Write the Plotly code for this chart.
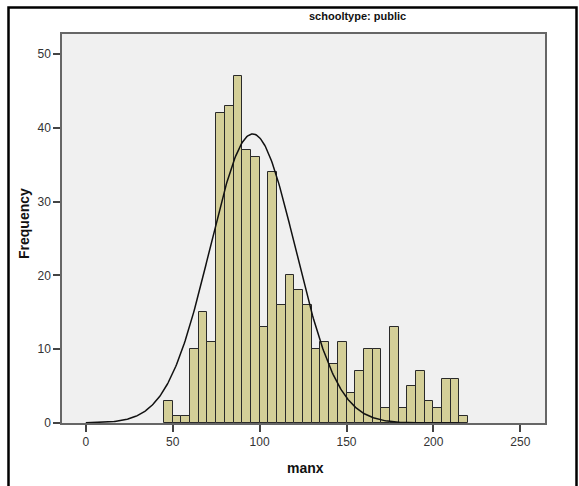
import plotly.graph_objects as go
import numpy as np

# Histogram data (bin left edges, width 5)
bin_left = [45, 50, 55, 60, 65, 70, 75, 80, 85, 90, 95, 100, 105, 110, 115, 120, 125,
            130, 135, 140, 145, 150, 155, 160, 165, 170, 175, 180, 185, 190, 195, 200,
            205, 210, 215]
counts = [3, 1, 1, 10, 15, 11, 42, 43, 47, 37, 36, 13, 34, 16, 20, 18, 16,
          10, 11, 8, 11, 4, 7, 10, 10, 2, 13, 2, 5, 7, 3, 2,
          6, 6, 1]
bin_width = 5

# Normal curve parameters (as drawn)
curve_mean = 96.0
curve_sd = 24.5
curve_n = sum(counts)

x_ticks = [0, 50, 100, 150, 200, 250]
y_ticks = [0, 10, 20, 30, 40, 50]

centers = [b + bin_width / 2 for b in bin_left]
xc = np.linspace(0, 215, 400)
yc = curve_n * bin_width / (curve_sd * np.sqrt(2 * np.pi)) * np.exp(-0.5 * ((xc - curve_mean) / curve_sd) ** 2)

font = "Arial, Liberation Sans, sans-serif"

fig = go.Figure()
fig.add_trace(go.Bar(
    x=centers, y=counts, width=bin_width,
    marker=dict(color="#D4CF98", line=dict(color="#2a2a2a", width=1)),
    hoverinfo="x+y",
))
fig.add_trace(go.Scatter(
    x=xc, y=yc, mode="lines",
    line=dict(color="#111111", width=1.5),
    hoverinfo="skip",
))

L, R, T, B = 62, 545, 34, 423
W, H = 579, 486

def px_to_paper_x(px):
    return (px - L) / (R - L)

def px_to_paper_y(py):
    return (B - py) / (B - T)

fig.update_layout(
    width=W, height=H,
    margin=dict(l=L, r=W - R, t=T, b=H - B),
    paper_bgcolor="white",
    plot_bgcolor="#F0F0F0",
    showlegend=False,
    bargap=0,
    font=dict(family=font, size=12, color="#333333"),
    xaxis=dict(
        range=[-13.7, 264.2], tickvals=x_ticks, ticktext=[str(v) for v in x_ticks],
        ticks="outside", ticklen=7, tickwidth=1.5, tickcolor="#444444",
        showline=True, mirror=True, linecolor="#666666", linewidth=1.5,
        showgrid=False, zeroline=False, tickfont=dict(size=12, color="#333333"),
    ),
    yaxis=dict(
        range=[0, 52.7], tickvals=y_ticks, ticktext=[str(v) for v in y_ticks],
        ticks="outside", ticklen=7, tickwidth=1.5, tickcolor="#444444",
        showline=True, mirror=True, linecolor="#666666", linewidth=1.5,
        showgrid=False, zeroline=False, tickfont=dict(size=12, color="#333333"),
    ),
    annotations=[
        dict(text="<b>schooltype: public</b>", xref="paper", yref="paper",
             x=px_to_paper_x(357.5), y=px_to_paper_y(16.5), xanchor="center", yanchor="middle",
             showarrow=False, font=dict(family=font, size=11, color="#111111")),
        dict(text="<b>manx</b>", xref="paper", yref="paper",
             x=px_to_paper_x(305), y=px_to_paper_y(468), xanchor="center", yanchor="middle",
             showarrow=False, font=dict(family=font, size=14, color="#111111")),
        dict(text="<b>Frequency</b>", xref="paper", yref="paper", textangle=-90,
             x=px_to_paper_x(24), y=px_to_paper_y(224), xanchor="center", yanchor="middle",
             showarrow=False, font=dict(family=font, size=14, color="#111111")),
    ],
    shapes=[
        dict(type="rect", xref="paper", yref="paper",
             x0=px_to_paper_x(8.5), x1=px_to_paper_x(576.5),
             y0=px_to_paper_y(495), y1=px_to_paper_y(7.5),
             line=dict(color="black", width=2.5), fillcolor="rgba(0,0,0,0)", layer="above"),
    ],
)

fig.write_html("out.html")
